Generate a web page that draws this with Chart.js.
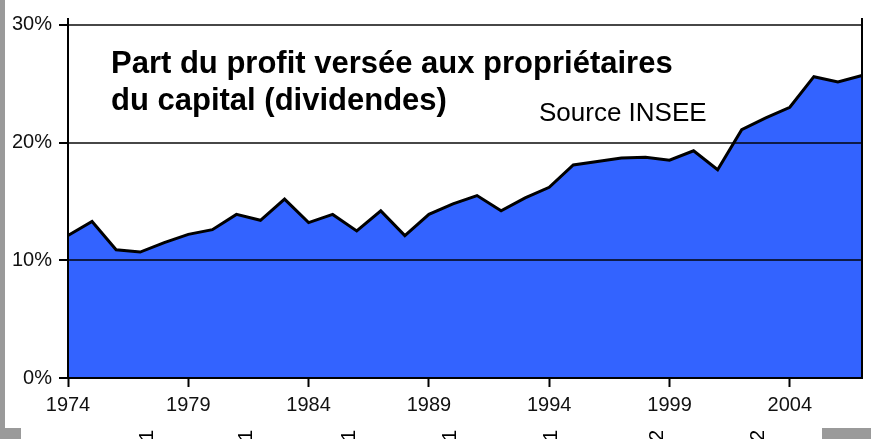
<!DOCTYPE html>
<html>
<head>
<meta charset="utf-8">
<script src="https://cdn.jsdelivr.net/npm/chart.js@4/dist/chart.umd.min.js"></script>
<style>
  html, body { margin: 0; padding: 0; background: #fff; }
  #wrap { position: relative; width: 871px; height: 439px; overflow: hidden; }
  .gray { position: absolute; background: #9a9a9a; }
</style>
</head>
<body>
<div id="wrap">
  <canvas id="chart" width="871" height="439"></canvas>
  <div class="gray" style="left:0;top:0;width:5px;height:428px"></div>
  <div class="gray" style="left:0;top:428px;width:21px;height:11px"></div>
  <div class="gray" style="left:822px;top:428px;width:49px;height:11px"></div>
</div>
<script>
// years on the x axis
const years = [];
for (let y = 1974; y <= 2007; y++) years.push(y);

// share of profit paid out as dividends, in %
const dividendShare = [
  12.1, 13.3, 10.9, 10.7, 11.5, 12.2, 12.6, 13.9, 13.4, 15.2,
  13.2, 13.9, 12.5, 14.2, 12.1, 13.9, 14.8, 15.5, 14.2, 15.3,
  16.2, 18.1, 18.4, 18.7, 18.75, 18.5, 19.3, 17.7, 21.1, 22.1,
  23.0, 25.6, 25.15, 25.7
];

const yTicks = [0, 10, 20, 30];
const titleLines = ["Part du profit versée aux propriétaires", "du capital (dividendes)"];
const sourceText = "Source INSEE";

const FONT = "'Liberation Sans', Arial, sans-serif";

// title + source + cut off labels at the very bottom
const textPlugin = {
  id: "texts",
  afterDraw(chart) {
    const ctx = chart.ctx;
    ctx.save();
    ctx.fillStyle = "#000";
    ctx.textAlign = "left";
    ctx.textBaseline = "alphabetic";
    ctx.font = "bold 31px " + FONT;
    ctx.fillText(titleLines[0], 111, 73);
    ctx.fillText(titleLines[1], 111, 110);
    ctx.font = "26px " + FONT;
    ctx.fillText(sourceText, 539, 121);

    // bits of rotated labels peeking in at the bottom
    const frag = [["1", 147], ["1", 246], ["1", 349], ["1", 450], ["1", 551], ["2", 657], ["2", 758]];
    ctx.font = "20px " + FONT;
    ctx.textBaseline = "middle";
    frag.forEach(([t, x]) => {
      ctx.save();
      ctx.translate(x, 430);
      ctx.rotate(-Math.PI / 2);
      ctx.textAlign = "right";
      ctx.fillText(t, 0, 0);
      ctx.restore();
    });
    ctx.restore();
  }
};

new Chart(document.getElementById("chart"), {
  type: "line",
  data: {
    labels: years,
    datasets: [{
      data: dividendShare,
      borderColor: "#000",
      borderWidth: 3,
      backgroundColor: "#3363ff",
      fill: "origin",
      tension: 0,
      pointRadius: 0
    }]
  },
  options: {
    responsive: false,
    animation: false,
    layout: { padding: { top: 14, right: 9, left: 0, bottom: 0 } },
    plugins: { legend: { display: false }, tooltip: { enabled: false } },
    scales: {
      x: {
        offset: false,
        grid: {
          z: 1,
          drawOnChartArea: false,
          tickLength: 9,
          tickWidth: 2,
          tickColor: (c) => (c.index % 5 === 0 ? "#000" : "rgba(0,0,0,0)")
        },
        border: { z: 1, color: "#000", width: 2 },
        ticks: {
          z: 1,
          autoSkip: false,
          maxRotation: 0,
          padding: 6,
          color: "#111",
          font: { family: FONT, size: 20 },
          callback: (v, i) => (i % 5 === 0 ? String(years[i]) : "")
        },
        afterFit: (s) => { s.height = 61; }
      },
      y: {
        min: 0,
        max: 30.5,
        afterBuildTicks: (s) => { s.ticks = yTicks.map(v => ({ value: v })); },
        grid: {
          z: 1,
          color: "rgba(0,0,0,0.72)",
          lineWidth: 2,
          tickLength: 9,
          tickColor: "#000"
        },
        border: { z: 1, color: "#000", width: 2 },
        ticks: {
          z: 1,
          padding: 7,
          color: "#111",
          font: { family: FONT, size: 20 },
          callback: (v) => v + "%"
        },
        afterFit: (s) => { s.width = 68; }
      },
      y2: {
        position: "right",
        min: 0,
        max: 30.5,
        grid: { display: false },
        border: { z: 1, color: "#000", width: 2 },
        ticks: { display: false },
        afterFit: (s) => { s.width = 0; }
      }
    }
  },
  plugins: [textPlugin]
});
</script>
</body>
</html>
